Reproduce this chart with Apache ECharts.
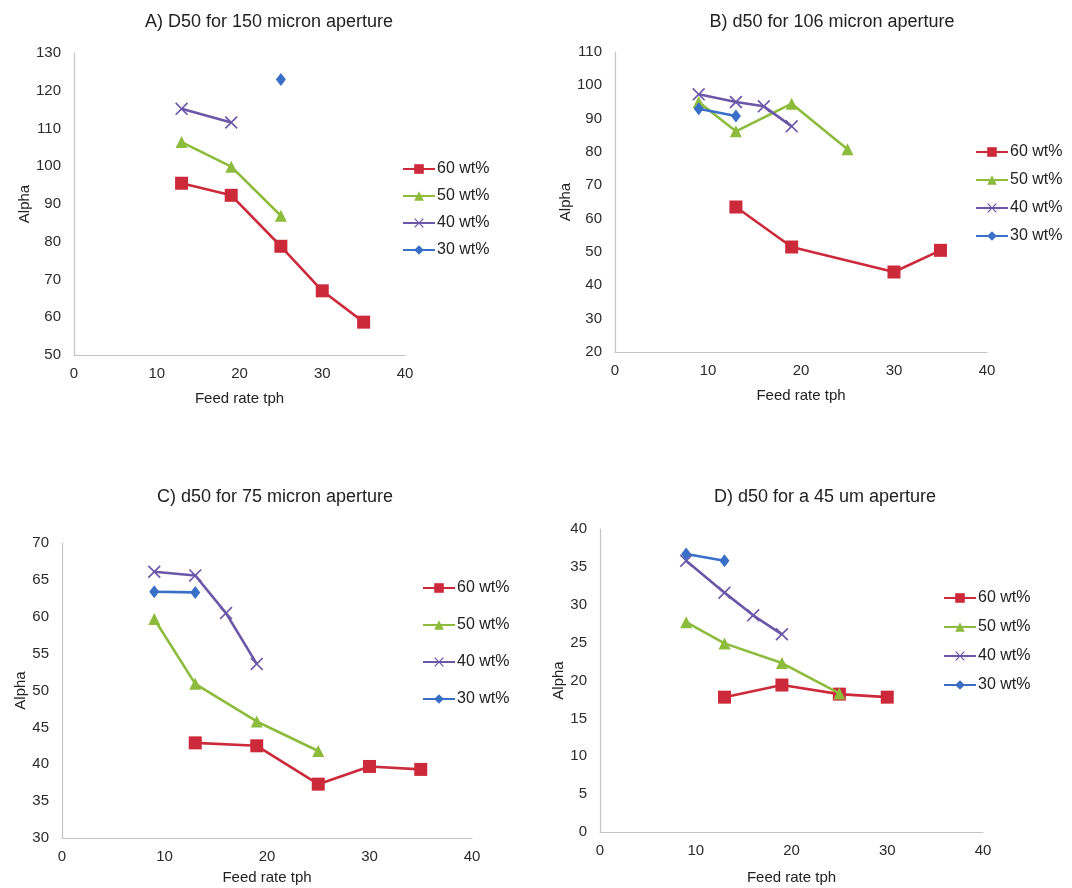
<!DOCTYPE html>
<html>
<head>
<meta charset="utf-8">
<title>d50 vs feed rate</title>
<script src="https://cdn.jsdelivr.net/npm/echarts@6/dist/echarts.min.js"></script>
<style>
  html, body { margin: 0; padding: 0; background: #ffffff; }
  #chart { width: 1072px; height: 888px; }
</style>
</head>
<body>
<div id="chart"></div>
<script>
// Series labels (solids concentration)
const seriesNames = ['60 wt%', '50 wt%', '40 wt%', '30 wt%'];

// Panel titles
const panelTitles = [
  'A) D50 for 150 micron aperture',
  'B) d50 for 106 micron aperture',
  'C) d50 for 75 micron aperture',
  'D) d50 for a 45 um aperture'
];

// A) 150 micron aperture: feed rate (tph) and alpha
const a60Feed = [13, 19, 25, 30, 35];
const a60Alpha = [95.5, 92.3, 78.8, 67, 58.7];
const a50Feed = [13, 19, 25];
const a50Alpha = [106.4, 99.9, 86.9];
const a40Feed = [13, 19];
const a40Alpha = [115.2, 111.6];
const a30Feed = [25];
const a30Alpha = [123];

// B) 106 micron aperture
const b60Feed = [13, 19, 30, 35];
const b60Alpha = [63.5, 51.5, 44, 50.5];
const b50Feed = [9, 13, 19, 25];
const b50Alpha = [95, 86.2, 94.5, 80.8];
const b40Feed = [9, 13, 16, 19];
const b40Alpha = [97.3, 95, 93.7, 87.7];
const b30Feed = [9, 13];
const b30Alpha = [93, 90.8];

// C) 75 micron aperture
const c60Feed = [13, 19, 25, 30, 35];
const c60Alpha = [42.9, 42.5, 37.3, 39.7, 39.3];
const c50Feed = [9, 13, 19, 25];
const c50Alpha = [59.7, 50.9, 45.8, 41.8];
const c40Feed = [9, 13, 16, 19];
const c40Alpha = [66.1, 65.6, 60.5, 53.6];
const c30Feed = [9, 13];
const c30Alpha = [63.4, 63.3];

// D) 45 um aperture
const d60Feed = [13, 19, 25, 30];
const d60Alpha = [17.8, 19.4, 18.2, 17.8];
const d50Feed = [9, 13, 19, 25];
const d50Alpha = [27.7, 24.9, 22.3, 18.3];
const d40Feed = [9, 13, 16, 19];
const d40Alpha = [35.8, 31.6, 28.6, 26.1];
const d30Feed = [9, 13];
const d30Alpha = [36.7, 35.8];

// Axis ranges per panel: [yMin, yMax, yInterval]
const yRanges = [
  [50, 130, 10],
  [20, 110, 10],
  [30, 70, 5],
  [0, 40, 5]
];
const xRange = [0, 40, 10];

const FONT = "'Liberation Sans', Arial, sans-serif";
const colors = ['#cc2a3a', '#8dbb3c', '#6c56a8', '#3a6fc8'];
const crossPath = 'path://M0,0.9L0.9,0L5,4.1L9.1,0L10,0.9L5.9,5L10,9.1L9.1,10L5,5.9L0.9,10L0,9.1L4.1,5Z';
const symbols = ['rect', 'triangle', crossPath, 'diamond'];
const symbolSizes = [13, 12, 13, [10, 13]];

const panels = [
  [[a60Feed, a60Alpha], [a50Feed, a50Alpha], [a40Feed, a40Alpha], [a30Feed, a30Alpha]],
  [[b60Feed, b60Alpha], [b50Feed, b50Alpha], [b40Feed, b40Alpha], [b30Feed, b30Alpha]],
  [[c60Feed, c60Alpha], [c50Feed, c50Alpha], [c40Feed, c40Alpha], [c30Feed, c30Alpha]],
  [[d60Feed, d60Alpha], [d50Feed, d50Alpha], [d40Feed, d40Alpha], [d30Feed, d30Alpha]]
];

// Layout of the four panels
const grids = [
  { left: 74, top: 53, width: 331, height: 302 },
  { left: 615, top: 52, width: 372, height: 300 },
  { left: 62, top: 543, width: 410, height: 295 },
  { left: 600, top: 529, width: 383, height: 303 }
];
const titlePos = [[264, 8], [827, 8], [270, 483], [820, 483]];
const legendPos = [
  { left: 402, top: 161, gap: 11 },
  { left: 975, top: 144, gap: 12 },
  { left: 422, top: 580, gap: 21 },
  { left: 943, top: 590, gap: 13 }
];
const yNameGap = [40, 40, 33, 32];
const xNameGap = [36, 36, 32, 38];

function zip(xs, ys) {
  return xs.map((x, i) => [x, ys[i]]);
}

const axisLine = { show: true, lineStyle: { color: '#c4c4c4', width: 1.2 } };
const labelStyle = { color: '#2b2b2b', fontSize: 15, fontFamily: FONT };

const option = {
  backgroundColor: '#ffffff',
  animation: false,
  title: panelTitles.map((t, i) => ({
    text: t,
    left: titlePos[i][0],
    top: titlePos[i][1],
    textAlign: 'center',
    textStyle: { fontSize: 18, fontWeight: 'normal', color: '#222', fontFamily: FONT }
  })),
  legend: legendPos.map((p, i) => ({
    orient: 'vertical',
    left: p.left,
    top: p.top,
    itemWidth: 32,
    itemHeight: 12,
    itemGap: p.gap,
    padding: 0,
    data: seriesNames.map(n => n + '\u200b'.repeat(i)),
    formatter: name => name.replace(/\u200b/g, ''),
    textStyle: { fontSize: 16, color: '#222', fontFamily: FONT, padding: [0, 0, 0, -3] }
  })),
  grid: grids,
  xAxis: grids.map((g, i) => ({
    type: 'value',
    gridIndex: i,
    min: xRange[0], max: xRange[1], interval: xRange[2],
    name: 'Feed rate tph',
    nameLocation: 'middle',
    nameGap: xNameGap[i],
    nameTextStyle: { fontSize: 15, color: '#222', fontFamily: FONT },
    axisLine: axisLine,
    axisTick: { show: false },
    splitLine: { show: false },
    axisLabel: Object.assign({ margin: 11 }, labelStyle)
  })),
  yAxis: grids.map((g, i) => ({
    type: 'value',
    gridIndex: i,
    min: yRanges[i][0], max: yRanges[i][1], interval: yRanges[i][2],
    name: 'Alpha',
    nameLocation: 'middle',
    nameRotate: 90,
    nameGap: yNameGap[i],
    nameTextStyle: { fontSize: 15, color: '#222', fontFamily: FONT },
    axisLine: axisLine,
    axisTick: { show: false },
    splitLine: { show: false },
    axisLabel: Object.assign({ margin: 13 }, labelStyle)
  })),
  series: []
};

panels.forEach((panel, pi) => {
  panel.forEach((pair, si) => {
    option.series.push({
      type: 'line',
      name: seriesNames[si] + '\u200b'.repeat(pi),
      xAxisIndex: pi,
      yAxisIndex: pi,
      data: zip(pair[0], pair[1]),
      symbol: symbols[si],
      symbolSize: symbolSizes[si],
      showAllSymbol: true,
      color: colors[si],
      lineStyle: { width: 2.6, color: colors[si] },
      itemStyle: { color: colors[si] },
      z: 2 + si
    });
  });
});

const chart = echarts.init(document.getElementById('chart'), null, { renderer: 'canvas' });
chart.setOption(option);
</script>
</body>
</html>
